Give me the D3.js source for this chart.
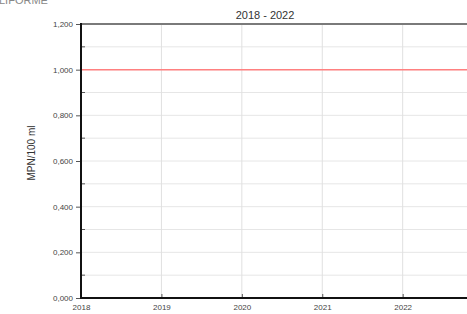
<!DOCTYPE html>
<html>
<head>
<meta charset="utf-8">
<script src="https://cdn.jsdelivr.net/npm/d3@7"></script>
<style>
  body { margin: 0; background: #fff; }
  svg { display: block; font-family: "Liberation Sans", Arial, sans-serif; }
</style>
</head>
<body>
<div id="chart"></div>
<script>
// Data
const years = [2018, 2019, 2020, 2021, 2022];
const yTicks = [0, 0.2, 0.4, 0.6, 0.8, 1.0, 1.2];
const yMinorTicks = [0.1, 0.3, 0.5, 0.7, 0.9, 1.1];
const limitValue = [1.0];
const title = "2018 - 2022";
const yLabel = "MPN/100 ml";

const width = 467;
const height = 314;
const margin = { top: 24, right: 0, bottom: 16, left: 81 };

const svg = d3.select("#chart").append("svg")
    .attr("width", width)
    .attr("height", height);

const x = d3.scaleLinear()
    .domain([2018, 2022.8])
    .range([margin.left, width]);

const y = d3.scaleLinear()
    .domain([0, 1.2])
    .range([height - margin.bottom, margin.top]);

const fmt = v => d3.format(".3f")(v).replace(".", ",");

// header text, cut off at the top like in the original
svg.append("text")
    .attr("x", -1)
    .attr("y", 4)
    .style("font-size", "11px")
    .style("fill", "#888")
    .text("LIFORME");

// gridlines
svg.append("g")
    .selectAll("line")
    .data(yTicks.concat(yMinorTicks))
    .enter().append("line")
    .attr("x1", margin.left)
    .attr("x2", width)
    .attr("y1", d => y(d))
    .attr("y2", d => y(d))
    .attr("stroke", "#e6e6e6")
    .attr("stroke-width", 1);

svg.append("g")
    .selectAll("line")
    .data(years.slice(1))
    .enter().append("line")
    .attr("x1", d => x(d))
    .attr("x2", d => x(d))
    .attr("y1", margin.top)
    .attr("y2", height - margin.bottom)
    .attr("stroke", "#e0e0e0")
    .attr("stroke-width", 1);

// limit line
svg.append("g")
    .selectAll("line")
    .data(limitValue)
    .enter().append("line")
    .attr("x1", margin.left)
    .attr("x2", width)
    .attr("y1", d => y(d))
    .attr("y2", d => y(d))
    .attr("stroke", "#ff8080")
    .attr("stroke-width", 1.5);

// y axis
const yAxis = svg.append("g")
    .attr("transform", `translate(${margin.left},0)`)
    .call(d3.axisLeft(y).tickValues(yTicks).tickFormat(fmt).tickSize(5).tickSizeOuter(0));
yAxis.select(".domain").remove();
yAxis.selectAll(".tick line").attr("stroke", "#555");
yAxis.selectAll(".tick text")
    .attr("x", -8)
    .style("font-size", "8px")
    .style("fill", "#444")
    .style("font-family", "Liberation Sans, Arial, sans-serif");

svg.append("g")
    .selectAll("line")
    .data(yMinorTicks)
    .enter().append("line")
    .attr("x1", margin.left)
    .attr("x2", margin.left + 4)
    .attr("y1", d => y(d))
    .attr("y2", d => y(d))
    .attr("stroke", "#555");

// x axis
const xAxis = svg.append("g")
    .attr("transform", `translate(0,${height - margin.bottom})`)
    .call(d3.axisBottom(x).tickValues(years).tickFormat(d3.format("d")).tickSize(-4).tickSizeOuter(0));
xAxis.select(".domain").remove();
xAxis.selectAll(".tick line").attr("stroke", "#555");
xAxis.selectAll(".tick text")
    .attr("y", 6)
    .style("font-size", "8px")
    .style("fill", "#444")
    .style("font-family", "Liberation Sans, Arial, sans-serif");

// frame
svg.append("line")
    .attr("x1", margin.left).attr("x2", width)
    .attr("y1", margin.top).attr("y2", margin.top)
    .attr("stroke", "#7a7a7a").attr("stroke-width", 2);
svg.append("line")
    .attr("x1", margin.left).attr("x2", margin.left)
    .attr("y1", margin.top - 1).attr("y2", height - margin.bottom + 1)
    .attr("stroke", "#111").attr("stroke-width", 2);
svg.append("line")
    .attr("x1", margin.left - 1).attr("x2", width)
    .attr("y1", height - margin.bottom).attr("y2", height - margin.bottom)
    .attr("stroke", "#111").attr("stroke-width", 2);

// title
svg.append("text")
    .attr("x", 265)
    .attr("y", 19)
    .attr("text-anchor", "middle")
    .style("font-size", "11px")
    .style("fill", "#333")
    .text(title);

// y label
svg.append("text")
    .attr("transform", "translate(35,153) rotate(-90)")
    .attr("text-anchor", "middle")
    .style("font-size", "10px")
    .style("fill", "#333")
    .text(yLabel);
</script>
</body>
</html>
